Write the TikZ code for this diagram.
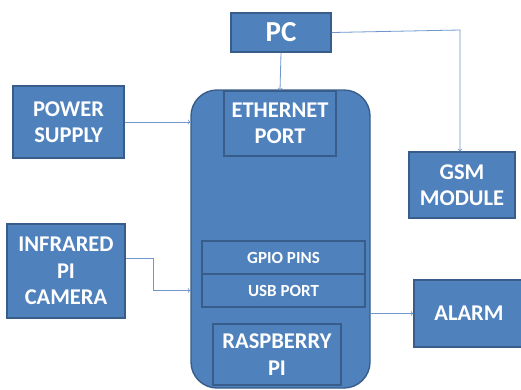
\documentclass[tikz,border=0pt]{standalone}
\usepackage{fontspec}
\setmainfont{Carlito}
\definecolor{boxfill}{HTML}{4F81BD}
\definecolor{boxline}{HTML}{385D8A}
\definecolor{wire}{HTML}{6F97CC}

\begin{document}
\begin{tikzpicture}[x=1pt,y=-1pt,
  block/.style={draw=boxline,line width=1.4pt,fill=boxfill,text=white,
    font=\bfseries\fontsize{22.5}{26.5}\selectfont,align=center,inner sep=0pt},
  port/.style={block,font=\bfseries\fontsize{17}{20}\selectfont},
  wire/.style={draw=wire,line width=0.8pt,-to}]
  \useasboundingbox (0,0) rectangle (521,389);

  \node[block,rounded corners=26pt,minimum width=179pt,minimum height=298pt] (rpi) at (280.5,239) {};
  \node[block,minimum width=100pt,minimum height=39pt,font=\bfseries\fontsize{29}{32}\selectfont] (pc) at (281,32.5) {PC};
  \node[block,minimum width=111pt,minimum height=72pt] (power) at (68.5,122) {POWER\\SUPPLY};
  \node[block,minimum width=112pt,minimum height=65pt] (eth) at (280,123.5) {ETHERNET\\PORT};
  \node[block,minimum width=106pt,minimum height=66pt] (gsm) at (462,185) {GSM\\MODULE};
  \node[block,minimum width=118pt,minimum height=94pt] (cam) at (66,271) {INFRARED\\PI\\CAMERA};
  \node[port,minimum width=163pt,minimum height=33pt] (gpio) at (283.5,257.5) {GPIO PINS};
  \node[port,minimum width=163pt,minimum height=33pt] (usb) at (283.5,290.5) {USB PORT};
  \node[block,minimum width=128pt,minimum height=61pt] (board) at (277,354.5) {RASPBERRY\\PI};
  \node[block,minimum width=110pt,minimum height=67pt] (alarm) at (469,313.5) {ALARM};

  \coordinate (pcgsm) at (460,30);
  \coordinate (camturn) at (153,258);

  \draw[wire] (pc.south) -- (eth.north);
  \draw[wire] (pc.east) -- (pcgsm) -- (pcgsm |- gsm.north);
  \draw[wire] (power.east) -- (power.east -| rpi.west);
  \draw[wire] (cam.east |- camturn) -- (camturn) -- (camturn |- usb.center) -- (usb.center -| rpi.west);
  \draw[wire] (rpi.east |- alarm.west) -- (alarm.west);
\end{tikzpicture}
\end{document}
